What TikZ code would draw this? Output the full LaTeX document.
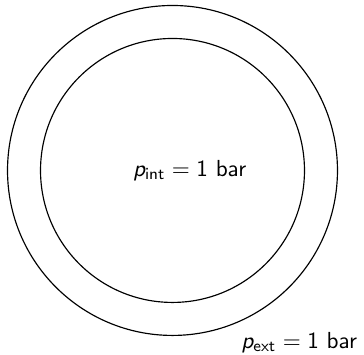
\documentclass[tikz,border=0pt]{standalone}
\usepackage{amsmath}
\usepackage{tikz}
\usetikzlibrary{positioning}
\DeclareMathAlphabet{\mathsfit}{OT1}{cmss}{m}{sl}
\newcommand{\pres}[1]{$\mathsfit{p}_{\mathsf{#1}} = \mathsf{1}$ bar}

\begin{document}
\begin{tikzpicture}[
    wall/.style={draw=black, line width=0.5pt},
    plabel/.style={inner sep=1pt, font=\sffamily}
]
\useasboundingbox (-2.614,-2.795) rectangle (2.902,2.583);

% Pipe walls
\coordinate (c) at (0,0);
\draw[wall] (c) circle (2.5cm);
\draw[wall] (c) circle (2cm);

% Pressures
\node[plabel] (pint) at (0.26,0) {\pres{int}};
\node[plabel] (pext) at (1.92,-2.61) {\pres{ext}};

\end{tikzpicture}
\end{document}
